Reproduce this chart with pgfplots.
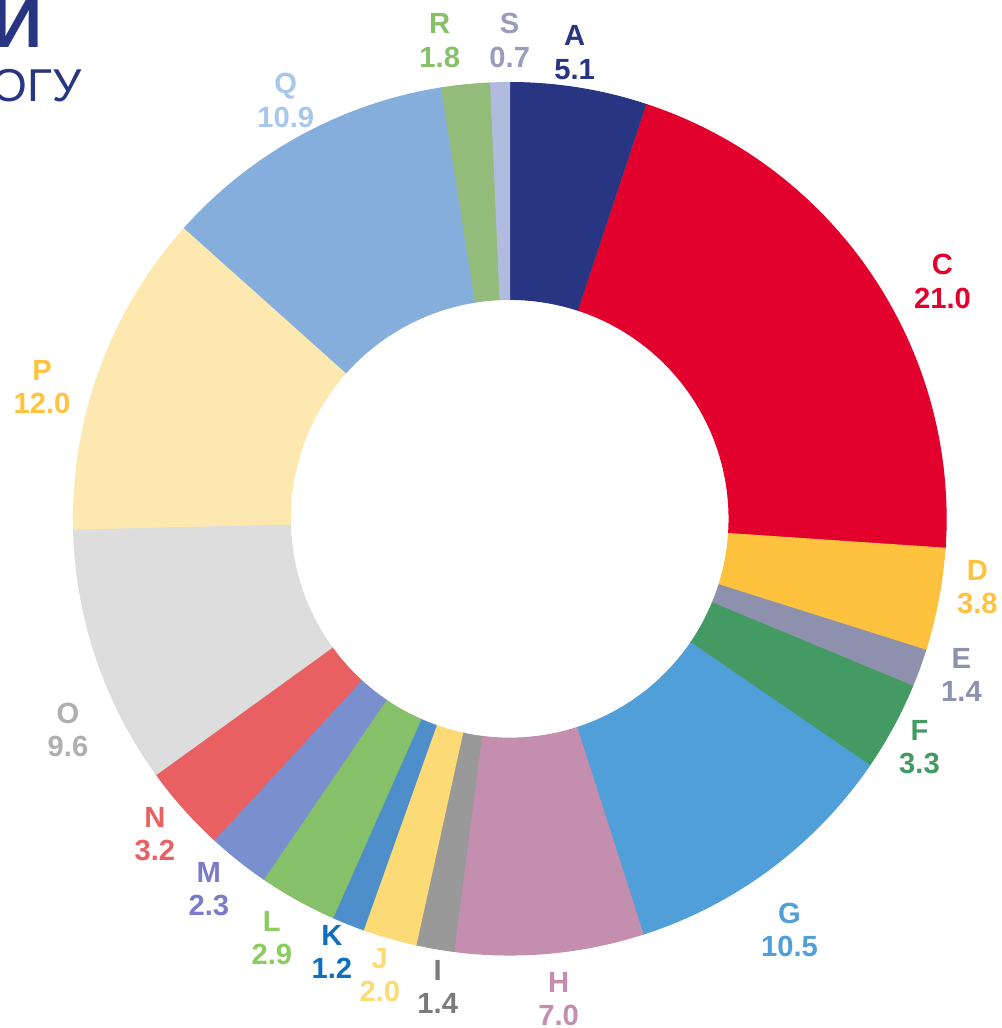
\documentclass[border=0pt]{standalone}
\usepackage{pgfplots}
\pgfplotsset{compat=1.18}
\usepackage{pgfplotstable}
\usepackage{fontspec}
\setmainfont{Liberation Sans}

\definecolor{navy}{HTML}{283583}
% slice fills
\definecolor{fA}{HTML}{283583}
\definecolor{fB}{HTML}{B8764A}
\definecolor{fC}{HTML}{E2002D}
\definecolor{fD}{HTML}{FFC23E}
\definecolor{fE}{HTML}{8E91AD}
\definecolor{fF}{HTML}{439A63}
\definecolor{fG}{HTML}{509FD8}
\definecolor{fH}{HTML}{C48EAF}
\definecolor{fI}{HTML}{999999}
\definecolor{fJ}{HTML}{FCDA75}
\definecolor{fK}{HTML}{4E8FCB}
\definecolor{fL}{HTML}{86C069}
\definecolor{fM}{HTML}{7A8FCD}
\definecolor{fN}{HTML}{E86062}
\definecolor{fO}{HTML}{DDDDDD}
\definecolor{fP}{HTML}{FDE9B0}
\definecolor{fQ}{HTML}{86AEDC}
\definecolor{fR}{HTML}{93BC7B}
\definecolor{fS}{HTML}{B1BBDF}
% label colours
\definecolor{lA}{HTML}{283583}
\definecolor{lB}{HTML}{283583}
\definecolor{lC}{HTML}{E2002D}
\definecolor{lD}{HTML}{FFC23E}
\definecolor{lE}{HTML}{8E91AD}
\definecolor{lF}{HTML}{439A63}
\definecolor{lG}{HTML}{509FD8}
\definecolor{lH}{HTML}{C48EAF}
\definecolor{lI}{HTML}{7A7A7A}
\definecolor{lJ}{HTML}{FCDA75}
\definecolor{lK}{HTML}{0E6EC0}
\definecolor{lL}{HTML}{8CCB5E}
\definecolor{lM}{HTML}{7B7BCB}
\definecolor{lN}{HTML}{E86062}
\definecolor{lO}{HTML}{AFAFAF}
\definecolor{lP}{HTML}{FFC23E}
\definecolor{lQ}{HTML}{A8C8EB}
\definecolor{lR}{HTML}{86C069}
\definecolor{lS}{HTML}{9A9CBA}

% name, value, fill, stroke, label colour, label x (px), label y (px from top), show label
\pgfplotstableread[col sep=comma]{
name,val,fillc,drawc,labc,lx,ly,show
A,5.1,fA,fA,lA,575,52,1
B,0.0,fB,fB,lB,0,0,0
C,21.0,fC,fC,lC,943,281,1
D,3.8,fD,fD,lD,978,587,1
E,1.4,fE,fE,lE,962,675,1
F,3.3,fF,fF,lF,920,747,1
G,10.5,fG,fG,lG,790,930,1
H,7.0,fH,fH,lH,559,999,1
I,1.4,fI,fI,lI,438,987,1
J,2.0,fJ,fJ,lJ,380,975,1
K,1.2,fK,fK,lK,332,952,1
L,2.9,fL,fL,lL,272,938,1
M,2.3,fM,fM,lM,209,889,1
N,3.2,fN,fN,lN,155,834,1
O,9.6,fO,fO,lO,68,730,1
P,12.0,fP,fP,lP,42,387,1
Q,10.9,fQ,fQ,lQ,286,100,1
R,1.8,fR,fR,lR,440,40,1
S,0.7,fS,fS,lS,510,40,1
}\data

\begin{document}
\begin{tikzpicture}
\useasboundingbox (0,0) rectangle (10.01cm,10.28cm);
\begin{axis}[
  at={(0,0)}, anchor=south west,
  x=0.01cm, y=0.01cm,
  xmin=0, xmax=1001, ymin=0, ymax=1028,
  hide axis, clip=false,
]
\pgfmathsetmacro\cx{510}
\pgfmathsetmacro\cy{509.5}
\pgfmathsetmacro\Ro{436.5}
\pgfmathsetmacro\Ri{219.5}
\pgfmathsetmacro\k{360/100.1}
\def\cum{0}
\pgfplotstablegetrowsof{\data}
\pgfmathtruncatemacro\nrows{\pgfplotsretval-1}
\pgfplotsforeachungrouped \i in {0,...,\nrows}{%
  \pgfplotstablegetelem{\i}{val}\of\data \let\v\pgfplotsretval
  \pgfplotstablegetelem{\i}{fillc}\of\data \let\fc\pgfplotsretval
  \pgfplotstablegetelem{\i}{drawc}\of\data \let\dc\pgfplotsretval
  \pgfmathsetmacro\aone{90-\k*\cum}
  \pgfmathsetmacro\atwo{90-\k*(\cum+\v)}
  \pgfmathsetmacro\xo{\cx+\Ro*cos(\aone)}
  \pgfmathsetmacro\yo{\cy+\Ro*sin(\aone)}
  \pgfmathsetmacro\xi{\cx+\Ri*cos(\atwo)}
  \pgfmathsetmacro\yi{\cy+\Ri*sin(\atwo)}
  \edef\temp{\noexpand\filldraw[fill=\fc, draw=\dc, line width=0.3pt]
    (axis cs:\xo,\yo) arc[start angle=\aone, end angle=\atwo, radius=4.365cm]
    -- (axis cs:\xi,\yi) arc[start angle=\atwo, end angle=\aone, radius=2.195cm] -- cycle;}%
  \temp
  \pgfmathsetmacro\cum{\cum+\v}%
}
% labels
\pgfplotsforeachungrouped \i in {0,...,\nrows}{%
  \pgfplotstablegetelem{\i}{show}\of\data \let\sh\pgfplotsretval
  \ifnum\sh=1
  \pgfplotstablegetelem{\i}{name}\of\data \let\nm\pgfplotsretval
  \pgfplotstablegetelem{\i}{val}\of\data \let\v\pgfplotsretval
  \pgfplotstablegetelem{\i}{labc}\of\data \let\lc\pgfplotsretval
  \pgfplotstablegetelem{\i}{lx}\of\data \let\lx\pgfplotsretval
  \pgfplotstablegetelem{\i}{ly}\of\data \let\ly\pgfplotsretval
  \pgfmathsetmacro\lyy{1028-\ly}
  \edef\temp{\noexpand\node[text=\lc, align=center, inner sep=0pt, anchor=center,
     font=\noexpand\bfseries\noexpand\fontsize{8.3}{9.5}\noexpand\selectfont]
     at (axis cs:\lx,\lyy) {\nm\noexpand\\\v};}%
  \temp
  \fi
}
\node[anchor=base west, inner sep=0pt, text=navy, font=\bfseries\fontsize{19.9}{22}\selectfont] at (axis cs:-8,981) {И};
\node[anchor=base west, inner sep=0pt, text=navy, font=\fontsize{13.1}{15}\selectfont] at (axis cs:-9,927) {ОГУ};
\end{axis}
\end{tikzpicture}
\end{document}
